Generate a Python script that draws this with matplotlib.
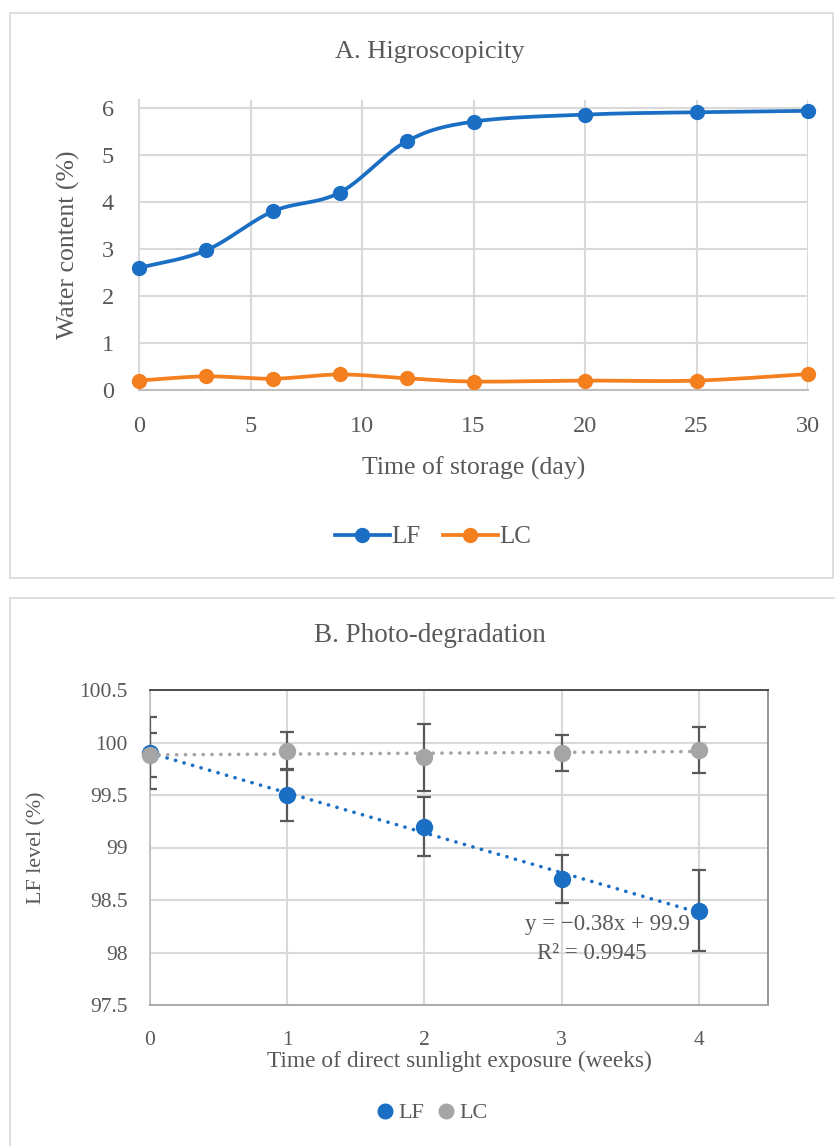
import numpy as np
import matplotlib
matplotlib.use("Agg")
import matplotlib.pyplot as plt
from matplotlib.lines import Line2D
from matplotlib.patches import Rectangle

plt.rcParams['font.family'] = ['Liberation Serif', 'DejaVu Serif']

# ---------------- data ----------------
days = [0, 3, 6, 9, 12, 15, 20, 25, 30]
lf_water = [2.60, 2.97, 3.80, 4.20, 5.29, 5.71, 5.86, 5.91, 5.94]
lc_water = [0.20, 0.29, 0.24, 0.33, 0.25, 0.18, 0.20, 0.20, 0.34]

weeks = [0, 1, 2, 3, 4]
lf_level = [99.90, 99.50, 99.20, 98.70, 98.40]
lf_err = [0.34, 0.25, 0.28, 0.23, 0.39]
lc_level = [99.88, 99.92, 99.86, 99.90, 99.93]
lc_err = [0.21, 0.18, 0.32, 0.17, 0.22]

a_xticks = [0, 5, 10, 15, 20, 25, 30]
a_yticks = [0, 1, 2, 3, 4, 5, 6]
b_xticks = [0, 1, 2, 3, 4]
b_yticks = [97.5, 98, 98.5, 99, 99.5, 100, 100.5]
b_ytick_labels = ['97.5', '98', '98.5', '99', '99.5', '100', '100.5']

BLUE = '#1a6fc4'
ORANGE = '#f47f1f'
GRAY = '#a5a5a5'
TXT = '#595959'
GRID = '#d9d9d9'


def smooth(xs, ys, sx, sy, n=40):
    """Excel-like smoothed line (Catmull-Rom Bezier) computed in display-scaled space."""
    P = np.column_stack([np.asarray(xs, float) * sx, np.asarray(ys, float) * sy])
    out = []
    for i in range(len(P) - 1):
        p0 = P[i - 1] if i > 0 else P[i]
        p1 = P[i]
        p2 = P[i + 1]
        p3 = P[i + 2] if i + 2 < len(P) else P[i + 1]
        c1 = p1 + (p2 - p0) / 6.0
        c2 = p2 - (p3 - p1) / 6.0
        t = np.linspace(0, 1, n)[:, None]
        seg = ((1 - t) ** 3) * p1 + 3 * ((1 - t) ** 2) * t * c1 + 3 * (1 - t) * t ** 2 * c2 + t ** 3 * p2
        out.append(seg if i == 0 else seg[1:])
    out = np.vstack(out)
    return out[:, 0] / sx, out[:, 1] / sy


fig = plt.figure(figsize=(8.35, 11.46), dpi=100)

# panel frames
fig.patches.append(Rectangle((10 / 835, 1 - 578 / 1146), 823 / 835, 565 / 1146,
                             transform=fig.transFigure, fill=False, edgecolor=GRID, lw=1.2))
fig.patches.append(Rectangle((10 / 835, 1 - 1150 / 1146), 830 / 835, 552 / 1146,
                             transform=fig.transFigure, fill=False, edgecolor=GRID, lw=1.2))

# ---------------- Panel A ----------------
axA = fig.add_axes([139 / 835, 1 - 390 / 1146, 669 / 835, 290 / 1146])
axA.set_xlim(0, 30)
axA.set_ylim(0, 6.17)
axA.set_xticks(a_xticks)
axA.set_yticks(a_yticks)
axA.grid(True, color=GRID, lw=1.5)
axA.set_axisbelow(True)
for s in ['top', 'right']:
    axA.spines[s].set_visible(False)
axA.spines['left'].set_color(GRID)
axA.spines['left'].set_linewidth(1.5)
axA.spines['bottom'].set_color('#bfbfbf')
axA.spines['bottom'].set_linewidth(1.5)
axA.tick_params(length=0, labelsize=17.5, colors=TXT)
axA.tick_params(axis='y', pad=18)
axA.tick_params(axis='x', pad=19)

sx, sy = 669 / 30, 47.0
xs, ys = smooth(days, lf_water, sx, sy)
axA.plot(xs, ys, color=BLUE, lw=2.7, solid_capstyle='round', zorder=3)
axA.plot(days, lf_water, 'o', color=BLUE, ms=10, zorder=4, clip_on=False)
xs, ys = smooth(days, lc_water, sx, sy)
axA.plot(xs, ys, color=ORANGE, lw=2.7, solid_capstyle='round', zorder=3)
axA.plot(days, lc_water, 'o', color=ORANGE, ms=10, zorder=4, clip_on=False)

axA.set_xlabel('Time of storage (day)', fontsize=18.5, color=TXT, labelpad=14)
axA.set_ylabel('Water content (%)', fontsize=18.5, color=TXT, labelpad=16)
fig.text(430 / 835, 1 - 52 / 1146, 'A. Higroscopicity', ha='center', va='center',
         fontsize=19, color=TXT)

hA = [Line2D([], [], color=BLUE, lw=2.7, marker='o', ms=10),
      Line2D([], [], color=ORANGE, lw=2.7, marker='o', ms=10)]
fig.legend(hA, ['LF', 'LC'], loc='center', bbox_to_anchor=(433 / 835, 1 - 537 / 1146),
           ncol=2, frameon=False, fontsize=18, labelcolor=TXT, handlelength=2.2,
           handletextpad=0.05, columnspacing=0.9)

# ---------------- Panel B ----------------
axB = fig.add_axes([150 / 835, 1 - 1005 / 1146, 618 / 835, 315 / 1146])
axB.set_xlim(0, 4.503)
axB.set_ylim(97.5, 100.5)
axB.set_xticks(b_xticks)
axB.set_yticks(b_yticks)
axB.set_yticklabels(b_ytick_labels)
axB.grid(True, color=GRID, lw=1.5)
axB.set_axisbelow(True)
axB.spines['top'].set_color('#404040')
axB.spines['right'].set_color('#8c8c8c')
axB.spines['bottom'].set_color('#a6a6a6')
axB.spines['left'].set_color('#bfbfbf')
for s in axB.spines.values():
    s.set_linewidth(1.3)
axB.tick_params(length=0, labelsize=15.5, colors=TXT)
axB.tick_params(axis='y', pad=16)
axB.tick_params(axis='x', pad=19)

# trendlines
xt = np.array([0, 4])
dots = (0, (0.05, 2.4))
k, b = np.polyfit(weeks, lf_level, 1)
axB.plot(xt, k * xt + b, color=BLUE, lw=2.6, ls=dots, dash_capstyle='round', zorder=3)
k2, b2 = np.polyfit(weeks, lc_level, 1)
axB.plot(xt, k2 * xt + b2, color=GRAY, lw=2.6, ls=dots, dash_capstyle='round', zorder=3)

axB.errorbar(weeks, lf_level, yerr=lf_err, fmt='none', ecolor=TXT, elinewidth=1.6,
             capsize=5, capthick=1.6, zorder=4)
axB.errorbar(weeks, lc_level, yerr=lc_err, fmt='none', ecolor=TXT, elinewidth=1.6,
             capsize=5, capthick=1.6, zorder=4)
axB.plot(weeks, lf_level, 'o', color=BLUE, ms=11.5, zorder=5, clip_on=False)
axB.plot(weeks, lc_level, 'o', color=GRAY, ms=11.5, zorder=6, clip_on=False)

axB.text(3.33, 98.27, 'y = \u22120.38x + 99.9', ha='center', va='center', fontsize=16.5, color=TXT)
axB.text(3.22, 97.99, 'R\u00b2 = 0.9945', ha='center', va='center', fontsize=16.5, color=TXT)

axB.set_xlabel('Time of direct sunlight exposure (weeks)', fontsize=16.8, color=TXT, labelpad=0)
axB.set_ylabel('LF level (%)', fontsize=15.8, color=TXT, labelpad=24)
fig.text(430 / 835, 1 - 635 / 1146, 'B. Photo-degradation', ha='center', va='center',
         fontsize=19.5, color=TXT)

hB = [Line2D([], [], color=BLUE, lw=0, marker='o', ms=10.5),
      Line2D([], [], color=GRAY, lw=0, marker='o', ms=10.5)]
fig.legend(hB, ['LF', 'LC'], loc='center', bbox_to_anchor=(432 / 835, 1 - 1113 / 1146),
           ncol=2, frameon=False, fontsize=16, labelcolor=TXT, handlelength=0.8,
           handletextpad=0.2, columnspacing=0.6)

fig.savefig('out.png', dpi=100)
